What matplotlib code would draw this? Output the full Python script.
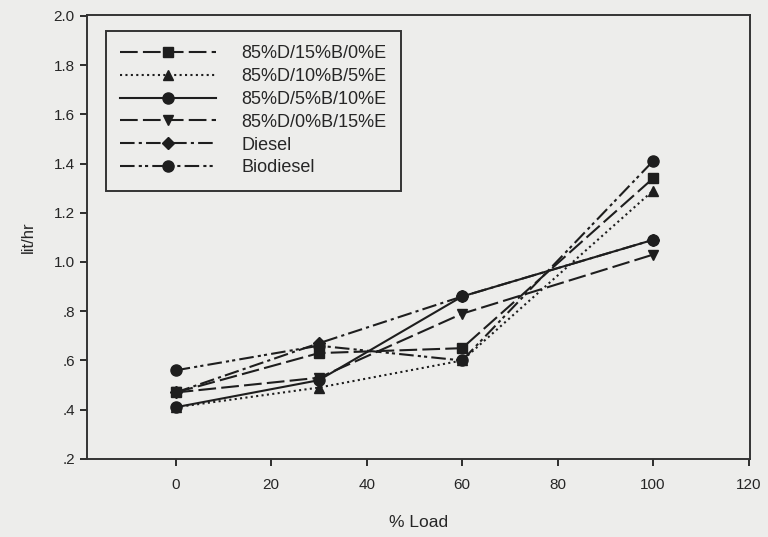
import matplotlib
matplotlib.use("Agg")
import matplotlib.pyplot as plt

load = [0, 30, 60, 100]
series_names = ["85%D/15%B/0%E", "85%D/10%B/5%E", "85%D/5%B/10%E",
                "85%D/0%B/15%E", "Diesel", "Biodiesel"]
d85_b15_e0 = [0.47, 0.63, 0.65, 1.34]
d85_b10_e5 = [0.41, 0.49, 0.60, 1.29]
d85_b5_e10 = [0.41, 0.52, 0.86, 1.09]
d85_b0_e15 = [0.47, 0.53, 0.79, 1.03]
diesel = [0.47, 0.67, 0.86, 1.09]
biodiesel = [0.56, 0.66, 0.60, 1.41]

yticks = [0.2, 0.4, 0.6, 0.8, 1.0, 1.2, 1.4, 1.6, 1.8, 2.0]
ytick_labels = [".2", ".4", ".6", ".8", "1.0", "1.2", "1.4", "1.6", "1.8", "2.0"]
xticks = [0, 20, 40, 60, 80, 100, 120]

plt.rcParams['font.family'] = ['Liberation Sans', 'DejaVu Sans']
bg = '#ededeb'
ink = '#1e1e1e'
txt = '#262626'

fig = plt.figure(figsize=(7.68, 5.37), dpi=100, facecolor=bg)
ax = fig.add_axes([0.1137, 0.1453, 0.8629, 0.8267], facecolor=bg)

styles = [
    dict(ls=(0, (8.5, 2.5)), marker='s'),
    dict(ls=(0, (1, 1.6)), marker='^'),
    dict(ls='-', marker='o'),
    dict(ls=(0, (8.5, 2.5)), marker='v'),
    dict(ls=(0, (7, 2, 1.5, 2)), marker='D'),
    dict(ls=(0, (7, 2, 1.5, 1.5, 1.5, 2)), marker='o'),
]
data = [d85_b15_e0, d85_b10_e5, d85_b5_e10, d85_b0_e15, diesel, biodiesel]
msizes = [7.5, 7.5, 8, 7.5, 6.5, 8]
for name, vals, st, ms in zip(series_names, data, styles, msizes):
    ax.plot(load, vals, color=ink, lw=1.5, linestyle=st['ls'], marker=st['marker'],
            markersize=ms, markerfacecolor=ink, markeredgecolor=ink, label=name)

ax.set_xlim(-18.5, 120.3)
ax.set_ylim(0.2, 2.003)
ax.set_xticks(xticks)
ax.set_xticklabels([str(v) for v in xticks])
ax.set_yticks(yticks)
ax.set_yticklabels(ytick_labels)
ax.tick_params(axis='both', direction='out', length=5, width=1.3, colors=ink,
               labelsize=11, labelcolor=txt, top=False, right=False)
ax.tick_params(axis='x', pad=9)
ax.tick_params(axis='y', pad=4)
for sp in ax.spines.values():
    sp.set_color('#333333')
    sp.set_linewidth(1.4)

ax.set_xlabel("% Load", fontsize=12.5, color=txt, labelpad=16)
ax.set_ylabel("lit/hr", fontsize=12, color=txt, labelpad=13)

leg = ax.legend(loc='upper left', bbox_to_anchor=(0.0282, 0.964), borderaxespad=0,
                frameon=True, fancybox=False, edgecolor='#333333', facecolor=bg,
                framealpha=1, fontsize=13, handlelength=5.3, handletextpad=1.4,
                labelspacing=0.32, borderpad=0.8)
leg.get_frame().set_linewidth(1.4)
for t in leg.get_texts():
    t.set_color(txt)

fig.savefig("out.png", dpi=100, facecolor=bg)
